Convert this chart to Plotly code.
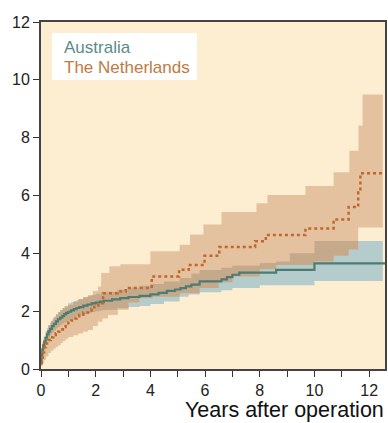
import numpy as np
import plotly.graph_objects as go

# ---------------- data ----------------
aus_est_t = [0, 0.02, 0.05, 0.08, 0.12, 0.17, 0.22, 0.27, 0.33, 0.4, 0.47, 0.55, 0.62, 0.7, 0.78, 0.85,
             0.92, 1.0, 1.1, 1.2, 1.3, 1.4, 1.55, 1.7, 1.85, 2.0, 2.15, 2.3, 2.6, 2.9,
             3.2, 3.6, 4.0, 4.3, 4.6, 4.9, 5.1, 5.3, 5.5, 5.8, 6.6, 6.8, 7.0, 7.25, 8.6, 10.0]
aus_est_y = [0.3, 0.5, 0.68, 0.82, 0.95, 1.08, 1.2, 1.3, 1.39, 1.48, 1.56, 1.65, 1.72, 1.78, 1.84, 1.9,
             1.94, 1.98, 2.03, 2.07, 2.11, 2.14, 2.19, 2.23, 2.27, 2.3, 2.33, 2.36, 2.41, 2.45,
             2.49, 2.53, 2.58, 2.63, 2.7, 2.75, 2.8, 2.86, 2.92, 3.03, 3.1, 3.18, 3.26, 3.33, 3.43, 3.65]

aus_lo_t = [0, 0.02, 0.05, 0.08, 0.12, 0.17, 0.22, 0.27, 0.33, 0.4, 0.47, 0.55, 0.62, 0.7, 0.78, 0.85,
            1.0, 1.1, 1.2, 1.3, 1.4, 1.55, 1.7, 1.85, 2.0, 2.2, 2.4, 2.8, 3.2,
            3.6, 4.0, 4.5, 5.07, 5.4, 5.8, 6.6, 7.0, 8.0, 10.0]
aus_lo_y = [0.15, 0.32, 0.48, 0.62, 0.75, 0.86, 0.97, 1.08, 1.17, 1.25, 1.33, 1.4, 1.46, 1.52, 1.57, 1.62,
            1.7, 1.74, 1.78, 1.82, 1.85, 1.89, 1.93, 1.97, 2.0, 2.03, 2.05, 2.1, 2.14,
            2.18, 2.25, 2.33, 2.5, 2.58, 2.65, 2.72, 2.8, 2.9, 3.04]

aus_hi_t = [0, 0.02, 0.05, 0.08, 0.12, 0.17, 0.22, 0.27, 0.33, 0.4, 0.47, 0.55, 0.62, 0.7, 0.78, 0.85,
            1.0, 1.1, 1.2, 1.3, 1.4, 1.55, 1.7, 1.85, 2.0, 2.2, 2.4, 2.8, 3.2,
            3.6, 4.0, 4.5, 5.07, 5.5, 5.8, 6.6, 7.0, 8.0, 8.6, 9.1, 10.0]
aus_hi_y = [0.45, 0.68, 0.88, 1.02, 1.15, 1.3, 1.42, 1.52, 1.62, 1.72, 1.81, 1.9, 1.97, 2.04, 2.11, 2.17,
            2.27, 2.31, 2.35, 2.39, 2.42, 2.47, 2.52, 2.56, 2.6, 2.64, 2.67, 2.75, 2.82,
            2.88, 2.94, 3.03, 3.15, 3.3, 3.42, 3.5, 3.58, 3.67, 3.72, 4.0, 4.43]

nl_est_t = [0, 0.03, 0.07, 0.12, 0.18, 0.27, 0.36, 0.45, 0.54, 0.63, 0.72, 0.8, 0.9, 1.0, 1.1, 1.2,
            1.3, 1.4, 1.55, 1.72, 1.85, 1.95, 2.1, 2.27, 2.8, 3.1,
            4.05, 5.05, 5.4, 5.98, 6.52, 7.83, 8.22, 9.67, 10.7, 11.25, 11.6, 11.68]
nl_est_y = [0.2, 0.4, 0.58, 0.75, 0.88, 1.0, 1.1, 1.18, 1.24, 1.29, 1.37, 1.45, 1.53, 1.6, 1.68, 1.75,
            1.82, 1.88, 1.95, 2.02, 2.08, 2.15, 2.27, 2.62, 2.68, 2.8,
            3.2, 3.43, 3.6, 3.92, 4.22, 4.42, 4.63, 4.86, 5.17, 5.6, 6.1, 6.77]

nl_lo_t = [0, 0.05, 0.1, 0.18, 0.27, 0.36, 0.45, 0.54, 0.63, 0.72, 0.8, 0.9, 1.0, 1.18, 1.36, 1.54,
           1.72, 1.9, 2.08, 2.25, 2.45, 2.81, 3.2, 3.6, 4.1, 5.07,
           5.8, 6.5, 7.0, 8.0, 8.6, 10.0, 10.7, 11.25, 11.6]
nl_lo_y = [0.1, 0.2, 0.3, 0.43, 0.55, 0.63, 0.7, 0.76, 0.82, 0.9, 0.97, 1.04, 1.11, 1.17, 1.23, 1.29,
           1.35, 1.49, 1.63, 1.75, 1.87, 2.05, 2.3, 2.45, 2.5, 2.62,
           2.8, 3.0, 3.2, 3.45, 3.6, 3.72, 3.92, 4.13, 4.89]

nl_hi_t = [0, 0.03, 0.06, 0.1, 0.18, 0.27, 0.36, 0.45, 0.54, 0.63, 0.72, 0.8, 0.9, 1.0, 1.18, 1.36,
           1.54, 1.72, 1.9, 2.08, 2.2, 2.5, 2.9, 4.0, 5.07,
           5.45, 5.94, 6.6, 7.88, 8.28, 9.67, 10.7, 11.28, 11.61, 11.76]
nl_hi_y = [0.3, 0.77, 0.95, 1.1, 1.32, 1.52, 1.66, 1.78, 1.88, 1.98, 2.04, 2.1, 2.16, 2.22, 2.32, 2.41,
           2.49, 2.56, 2.7, 2.85, 3.32, 3.55, 3.62, 4.07, 4.3,
           4.65, 5.0, 5.43, 5.73, 6.02, 6.33, 6.8, 7.55, 8.42, 9.49]

band_end = 12.5
line_end = 12.6

x_ticks = [0, 2, 4, 6, 8, 10, 12]
y_ticks = [0, 2, 4, 6, 8, 10, 12]

# ---------------- helpers ----------------
def step_eval(tb, yb, grid):
    tb = np.asarray(tb, float)
    yb = np.asarray(yb, float)
    idx = np.searchsorted(tb, grid, side="right") - 1
    idx = np.clip(idx, 0, len(yb) - 1)
    return yb[idx]

grid = np.unique(np.concatenate([aus_lo_t, aus_hi_t, nl_lo_t, nl_hi_t, [band_end]]))
grid = grid[grid <= band_end]

a_lo = step_eval(aus_lo_t, aus_lo_y, grid)
a_hi = step_eval(aus_hi_t, aus_hi_y, grid)
n_lo = step_eval(nl_lo_t, nl_lo_y, grid)
n_hi = step_eval(nl_hi_t, nl_hi_y, grid)
o_lo = np.maximum(a_lo, n_lo)
o_hi = np.maximum(o_lo, np.minimum(a_hi, n_hi))

C_BG = "#fdeed2"
C_TEAL = "#b4cccb"
C_TAN = "#e4c29f"
C_OVER = "#c5a98b"
C_AUS = "#4e7b72"
C_NL = "#c2672c"

fig = go.Figure()

def band(lo, hi, color):
    fig.add_trace(go.Scatter(x=grid, y=lo, mode="lines", line=dict(width=0, shape="hv"),
                             hoverinfo="skip", showlegend=False))
    fig.add_trace(go.Scatter(x=grid, y=hi, mode="lines", line=dict(width=0, shape="hv"),
                             fill="tonexty", fillcolor=color, hoverinfo="skip", showlegend=False))

band(a_lo, a_hi, C_TEAL)
band(n_lo, n_hi, C_TAN)
band(o_lo, o_hi, C_OVER)

fig.add_trace(go.Scatter(x=aus_est_t + [line_end], y=aus_est_y + [aus_est_y[-1]], mode="lines",
                         line=dict(color=C_AUS, width=2.2, shape="hv"), name="Australia",
                         showlegend=False))
fig.add_trace(go.Scatter(x=nl_est_t + [line_end], y=nl_est_y + [nl_est_y[-1]], mode="lines",
                         line=dict(color=C_NL, width=2.5, shape="hv", dash="3px,3px"),
                         name="The Netherlands", showlegend=False))

FONT = "Liberation Sans, Arial, Helvetica, sans-serif"

fig.update_layout(
    width=388, height=423,
    margin=dict(l=41, r=1, t=22, b=54),
    paper_bgcolor="white",
    plot_bgcolor=C_BG,
    font=dict(family=FONT, size=15, color="#222222"),
    showlegend=False,
)
fig.update_xaxes(range=[0, 12.58], tickvals=x_ticks, ticks="outside", ticklen=6, tickwidth=1.3,
                 tickcolor="#333", showgrid=False, zeroline=False, showline=True, linewidth=2,
                 linecolor="#444", mirror=True, tickfont=dict(size=16, color="#222"),
                 minor=dict(dtick=1, tick0=0, ticks="outside", ticklen=6, tickwidth=1.3,
                            tickcolor="#333", showgrid=False))
fig.update_yaxes(range=[0, 12], tickvals=y_ticks, ticks="outside", ticklen=6, tickwidth=1.3,
                 tickcolor="#333", showgrid=False, zeroline=False, showline=True, linewidth=2,
                 linecolor="#444", mirror=True, tickfont=dict(size=16, color="#222"))

# legend box
fig.add_shape(type="rect", xref="paper", yref="paper",
              x0=(52 - 41) / 346, x1=(198 - 41) / 346,
              y0=(369 - 80) / 347, y1=(369 - 33) / 347,
              fillcolor="white", line=dict(width=0), layer="above")
fig.add_annotation(xref="paper", yref="paper", x=(62 - 41) / 346, y=(369 - 47) / 347,
                   xanchor="left", yanchor="middle", showarrow=False,
                   text="Australia", font=dict(family=FONT, size=17, color="#5b8b89"))
fig.add_annotation(xref="paper", yref="paper", x=(62 - 41) / 346, y=(369 - 67) / 347,
                   xanchor="left", yanchor="middle", showarrow=False,
                   text="The Netherlands", font=dict(family=FONT, size=17, color="#c07a42"))

# axis title
fig.add_annotation(xref="paper", yref="paper", x=(388 - 41) / 346, y=(369 - 410) / 347,
                   xanchor="right", yanchor="middle", showarrow=False,
                   text="Years after operation", font=dict(family=FONT, size=21.5, color="#111"))

fig.write_html("out.html", config={"displayModeBar": False},
               post_script="document.body.style.margin='0';document.body.style.padding='0';"
                           "document.documentElement.style.overflow='hidden';")
